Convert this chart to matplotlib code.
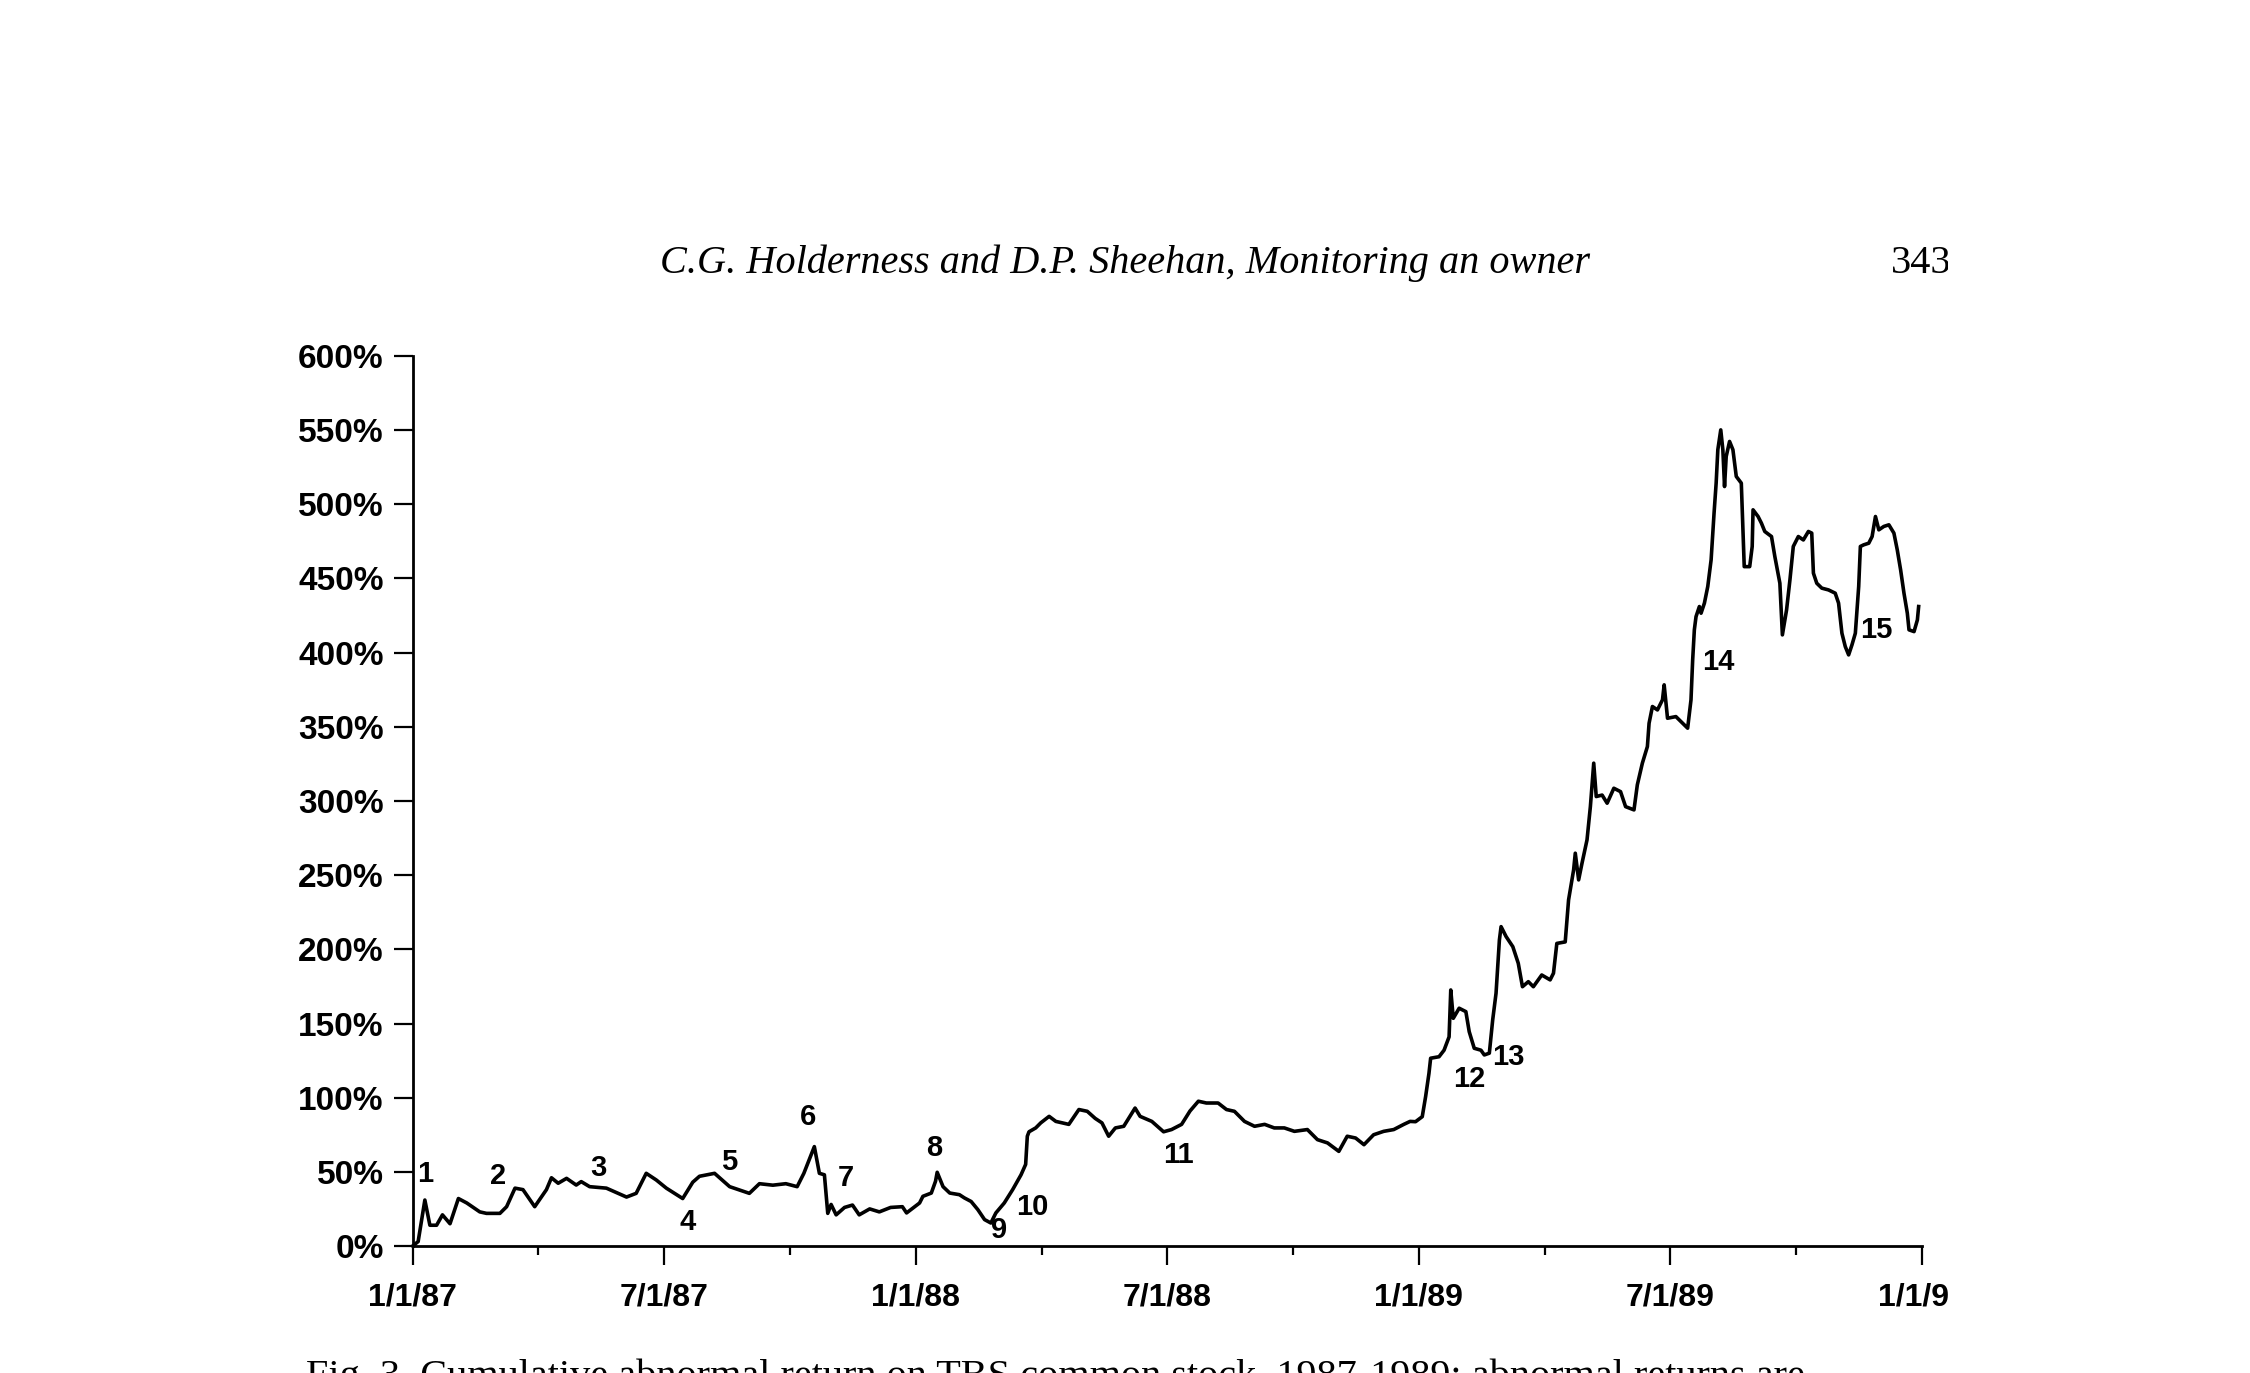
import matplotlib
matplotlib.use("Agg")
import matplotlib.pyplot as plt
from matplotlib.transforms import Bbox, TransformedBbox

# months since 1/1/87, cumulative abnormal return (%)
months = [
    0, 0.13, 0.29, 0.41, 0.57, 0.71, 0.89, 1.09, 1.29, 1.60, 1.76, 2.08, 2.24, 2.44, 2.63, 2.91,
    3.19, 3.31, 3.47, 3.67, 3.90, 4.02, 4.22, 4.62, 5.10, 5.33, 5.57, 5.81, 6.05, 6.44, 6.68, 6.84,
    7.20, 7.56, 8.03, 8.27, 8.59, 8.90, 9.17, 9.33, 9.44, 9.58, 9.70, 9.82, 9.90, 9.98, 10.10, 10.30,
    10.49, 10.65, 10.90, 11.13, 11.40, 11.68, 11.78, 12.09, 12.17, 12.37, 12.47, 12.51, 12.65, 12.81,
    13.04, 13.16, 13.32, 13.48, 13.64, 13.79, 13.91, 14.11, 14.31, 14.51, 14.62, 14.66, 14.70, 14.86,
    14.98, 15.18, 15.34, 15.65, 15.89, 16.09, 16.28, 16.44, 16.60, 16.76, 16.96, 17.23, 17.35, 17.63,
    17.91, 18.10, 18.34, 18.54, 18.74, 18.93, 19.21, 19.41, 19.60, 19.84, 20.08, 20.32, 20.55, 20.79,
    21.03, 21.34, 21.58, 21.82, 22.09, 22.29, 22.49, 22.69, 22.92, 23.16, 23.40, 23.64, 23.79, 23.92,
    24.08, 24.16, 24.24, 24.28, 24.48, 24.60, 24.72, 24.76, 24.82, 24.96, 25.12, 25.20, 25.32, 25.48,
    25.56, 25.68, 25.76, 25.84, 25.92, 25.96, 26.08, 26.24, 26.37, 26.47, 26.61, 26.73, 26.93, 27.13,
    27.21, 27.29, 27.49, 27.57, 27.69, 27.73, 27.81, 27.89, 28.01, 28.09, 28.17, 28.23, 28.37, 28.49,
    28.65, 28.81, 28.93, 29.13, 29.21, 29.33, 29.45, 29.49, 29.57, 29.69, 29.81, 29.85, 29.93, 30.13,
    30.29, 30.41, 30.49, 30.53, 30.57, 30.61, 30.69, 30.73, 30.81, 30.89, 30.97, 31.04, 31.09, 31.13,
    31.20, 31.25, 31.29, 31.33, 31.41, 31.49, 31.57, 31.69, 31.73, 31.76, 31.89, 31.95, 31.97, 32.09,
    32.17, 32.25, 32.41, 32.49, 32.61, 32.67, 32.77, 32.85, 32.93, 33.05, 33.17, 33.29, 33.37, 33.41,
    33.49, 33.61, 33.77, 33.93, 34.01, 34.09, 34.17, 34.25, 34.33, 34.41, 34.49, 34.53, 34.61, 34.73,
    34.81, 34.89, 34.97, 35.09, 35.21, 35.33, 35.41, 35.49, 35.57, 35.65, 35.69, 35.81, 35.89, 35.92,
]
car_pct = [
    0, 3, 31, 14, 14, 21, 15, 32, 29, 23, 22, 22, 26.5, 39, 38, 26.5,
    38, 46, 42.3, 45.6, 41.1, 43.4, 40, 39, 33, 35.5, 49, 44.5, 39, 32, 43, 47,
    49, 40, 35.5, 42, 41, 42, 40, 49, 57, 67, 49, 48, 22, 28, 21, 26,
    27.6, 21, 25, 23, 26, 26.5, 22.3, 29, 33.5, 35.7, 43.6, 49.7, 40, 35.7,
    34.6, 32.4, 30, 24.5, 17.8, 15.5, 22.3, 29, 38, 48, 55, 74, 77, 79.6,
    83, 87.4, 84, 82, 92, 90.8, 86, 83, 74, 79.6, 80.7, 93, 87.4, 84,
    77, 78.5, 82, 91, 97.6, 96.4, 96.4, 92, 90.8, 84, 80.7, 82, 79.6, 79.6,
    77.3, 78.5, 71.7, 69.5, 63.8, 74, 72.8, 68.3, 75, 77.3, 78.5, 82, 84, 83.8,
    87.2, 100.7, 116.4, 126.6, 127.6, 132, 141, 172.6, 153.5, 160.3, 158, 144.5, 133.3, 132,
    128.8, 130, 152.4, 170.4, 206.3, 215.3, 208.6, 201.8, 190.6, 174.8, 178.2, 174.8, 182.7, 179.4,
    183.9, 204, 205, 233.3, 253.5, 264.8, 246.8, 258, 273.8, 296.2, 325.5, 303, 304, 298.5,
    308.6, 306.3, 296.2, 294, 310.9, 325.5, 336.7, 352.4, 363.7, 361.4, 368.2, 378.3, 355.8, 356.9,
    352.4, 349.1, 368.2, 395.1, 415.4, 424.3, 431.1, 426.6, 433.4, 444.6, 462.6, 494, 514.3, 536.8,
    550.2, 536.8, 512, 532.3, 542.4, 536.8, 518.8, 514.3, 482.8, 458, 458, 471.6, 496.3, 491.8,
    487.3, 481.7, 478.3, 464.8, 446.8, 412, 428.9, 449.1, 471.6, 478.3, 476, 481.7, 480.6, 453.6,
    446.8, 443.5, 442.3, 440.1, 433.4, 413.1, 404.1, 398.5, 405.3, 413.1, 444.6, 471.6, 472.7, 473.8,
    478.3, 491.8, 482.8, 485.1, 486.2, 480.6, 469.3, 455.8, 440.1, 426.6, 415.4, 414.2, 422.1, 431.1,
]

# numbered event markers placed on the chart
event_labels = [str(i) for i in range(1, 16)]
event_month = [0.30, 2.04, 4.42, 6.56, 7.55, 9.42, 10.33, 12.45, 13.98, 14.79, 18.27, 25.19, 26.13, 31.15, 34.92]
event_pct = [48.6, 47.2, 52.4, 16.4, 56.8, 87.2, 45.7, 65.9, 10.8, 26.5, 61.4, 112.4, 127.2, 394, 415.4]

x_ticks = [0, 6, 12, 18, 24, 30, 36]
x_tick_labels = ["1/1/87", "7/1/87", "1/1/88", "7/1/88", "1/1/89", "7/1/89", "1/1/90"]
y_ticks = list(range(0, 601, 50))
y_tick_labels = [f"{v}%" for v in y_ticks]

W, H = 2250, 1373
fig = plt.figure(figsize=(W / 100, H / 100), dpi=100)
ax = fig.add_axes([412.7 / W, 1 - 1246 / H, (1922 - 412.7) / W, (1246 - 356) / H])

ax.plot(months, car_pct, color="black", lw=2.6, clip_on=False)

for lbl, mx, py in zip(event_labels, event_month, event_pct):
    ax.text(mx, py, lbl, ha="center", va="center", fontsize=21, fontweight="bold",
            family="Liberation Sans")

ax.set_xlim(0, 36)
ax.set_ylim(0, 600)
for s in ["top", "right"]:
    ax.spines[s].set_visible(False)
ax.spines["left"].set_linewidth(2)
ax.spines["bottom"].set_linewidth(2)

ax.set_xticks(x_ticks)
ax.set_xticklabels(x_tick_labels)
ax.set_xticks([3, 9, 15, 21, 27, 33], minor=True)
ax.set_yticks(y_ticks)
ax.set_yticklabels(y_tick_labels)
ax.tick_params(axis="x", which="major", length=14, width=1.6, pad=12)
ax.tick_params(axis="x", which="minor", length=6.5, width=1.6)
ax.tick_params(axis="y", length=14, width=1.6, pad=7)
for lbl in ax.get_xticklabels():
    lbl.set_fontfamily("Liberation Sans")
    lbl.set_fontweight("bold")
    lbl.set_fontsize(23)
for lbl in ax.get_yticklabels():
    lbl.set_fontfamily("Liberation Sans")
    lbl.set_fontweight("bold")
    lbl.set_fontsize(24)

# the scanned page is cut off on the right
clip = TransformedBbox(Bbox([[0, 0], [1948 / W, 1]]), fig.transFigure)
for lbl in ax.get_xticklabels():
    lbl.set_clip_box(clip)
    lbl.set_clip_on(True)

fig.text(1125 / W, 1 - 273 / H, "C.G. Holderness and D.P. Sheehan, Monitoring an owner",
         ha="center", va="baseline", fontsize=29, style="italic", family="Liberation Serif")
t = fig.text(1891 / W, 1 - 273 / H, "343", ha="left", va="baseline", fontsize=29,
             family="Liberation Serif")
t.set_clip_box(clip)
t.set_clip_on(True)
cap = fig.text(306 / W, 1 - 1387 / H,
               "Fig. 3. Cumulative abnormal return on TBS common stock, 1987-1989; abnormal returns are",
               ha="left", va="baseline", fontsize=29, family="Liberation Serif")
cap.set_clip_box(clip)
cap.set_clip_on(True)

fig.savefig("out.png", dpi=100)
